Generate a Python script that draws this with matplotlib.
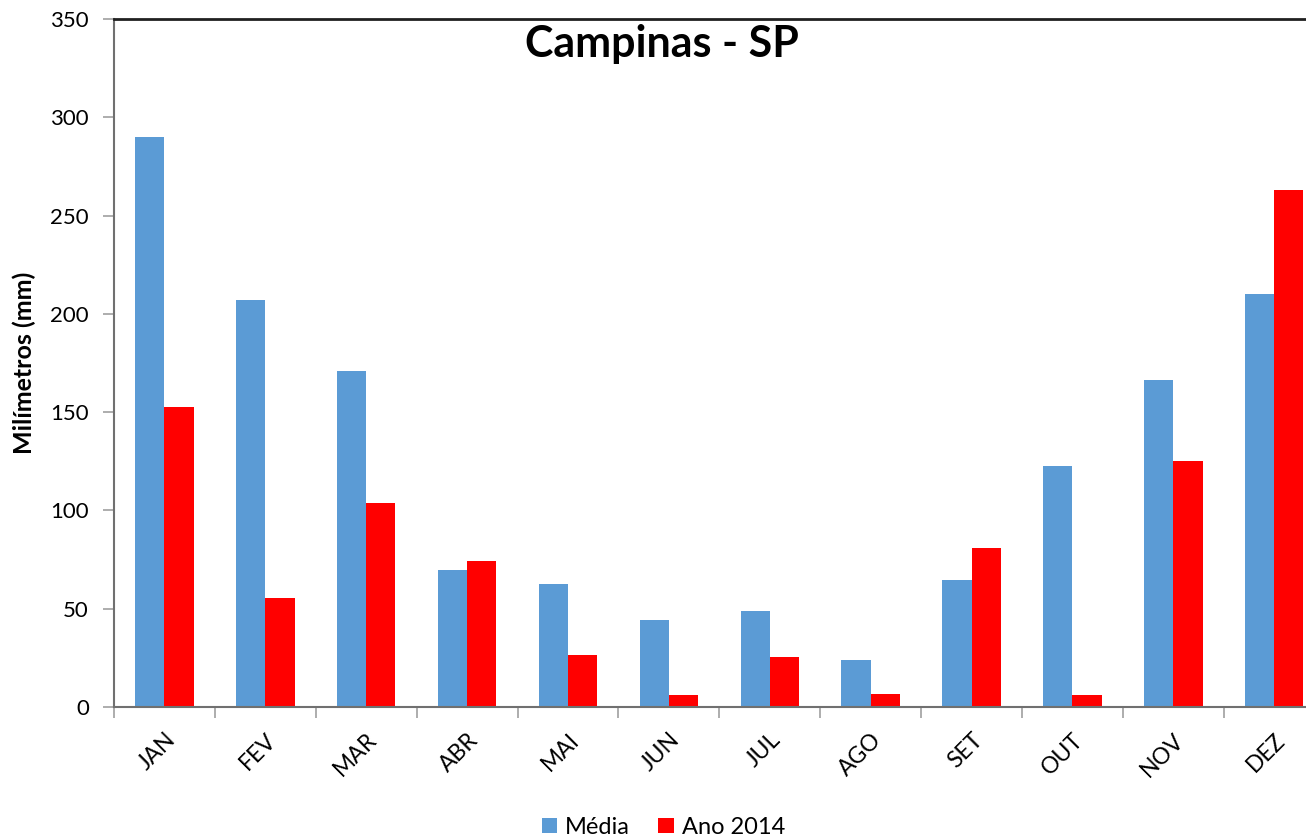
import numpy as np
import matplotlib.pyplot as plt

plt.rcParams["font.family"] = ["Lato", "DejaVu Sans"]

meses = ["JAN", "FEV", "MAR", "ABR", "MAI", "JUN", "JUL", "AGO", "SET", "OUT", "NOV", "DEZ"]
media = [290, 207, 171, 69.7, 62.6, 44.3, 48.8, 23.9, 64.6, 122.4, 166.3, 210]
ano_2014 = [152.6, 55.4, 103.8, 74.3, 26.4, 6.1, 25.4, 6.6, 80.9, 6.1, 125.1, 263]

fig = plt.figure(figsize=(13.06, 8.38), dpi=100)
# axis runs past the right edge, as in the original picture
ax = fig.add_axes([0.0873, 0.1563, 0.927, 0.821])

x = np.arange(len(meses))
w = 0.29
ax.bar(x - w / 2, media, width=w, color="#5b9bd5", label="Média")
ax.bar(x + w / 2, ano_2014, width=w, color="#ff0000", label="Ano 2014")

ax.set_xlim(-0.5, len(meses) - 0.5)
ax.set_ylim(0, 350)
ax.set_yticks(np.arange(0, 351, 50))
ax.set_xticks(x)
ax.set_xticklabels(meses, rotation=45, ha="right", rotation_mode="anchor", fontsize=16.5)
ax.set_xticks(np.arange(-0.5, len(meses), 1), minor=True)
ax.tick_params(axis="x", which="major", length=0, pad=16)
ax.tick_params(axis="x", which="minor", length=8, color="#a0a0a0", width=1.2)
ax.tick_params(axis="y", length=8, color="#a0a0a0", width=1.2, labelsize=16, pad=10)

for s in ["left", "bottom"]:
    ax.spines[s].set_color("#707070")
    ax.spines[s].set_linewidth(1.5)
ax.spines["top"].set_color("#202020")
ax.spines["top"].set_linewidth(2)
ax.spines["right"].set_visible(False)

ax.set_ylabel("Milímetros (mm)", fontsize=18, fontweight="bold", labelpad=10)
fig.text(0.507, 0.948, "Campinas - SP", ha="center", va="center",
         fontsize=31, fontweight="bold")

fig.legend(loc="lower center", bbox_to_anchor=(0.508, -0.025), ncol=2, frameon=False,
           fontsize=17, handlelength=0.65, handleheight=0.65, handletextpad=0.35,
           columnspacing=1.2)

fig.savefig("out.png", dpi=100)
